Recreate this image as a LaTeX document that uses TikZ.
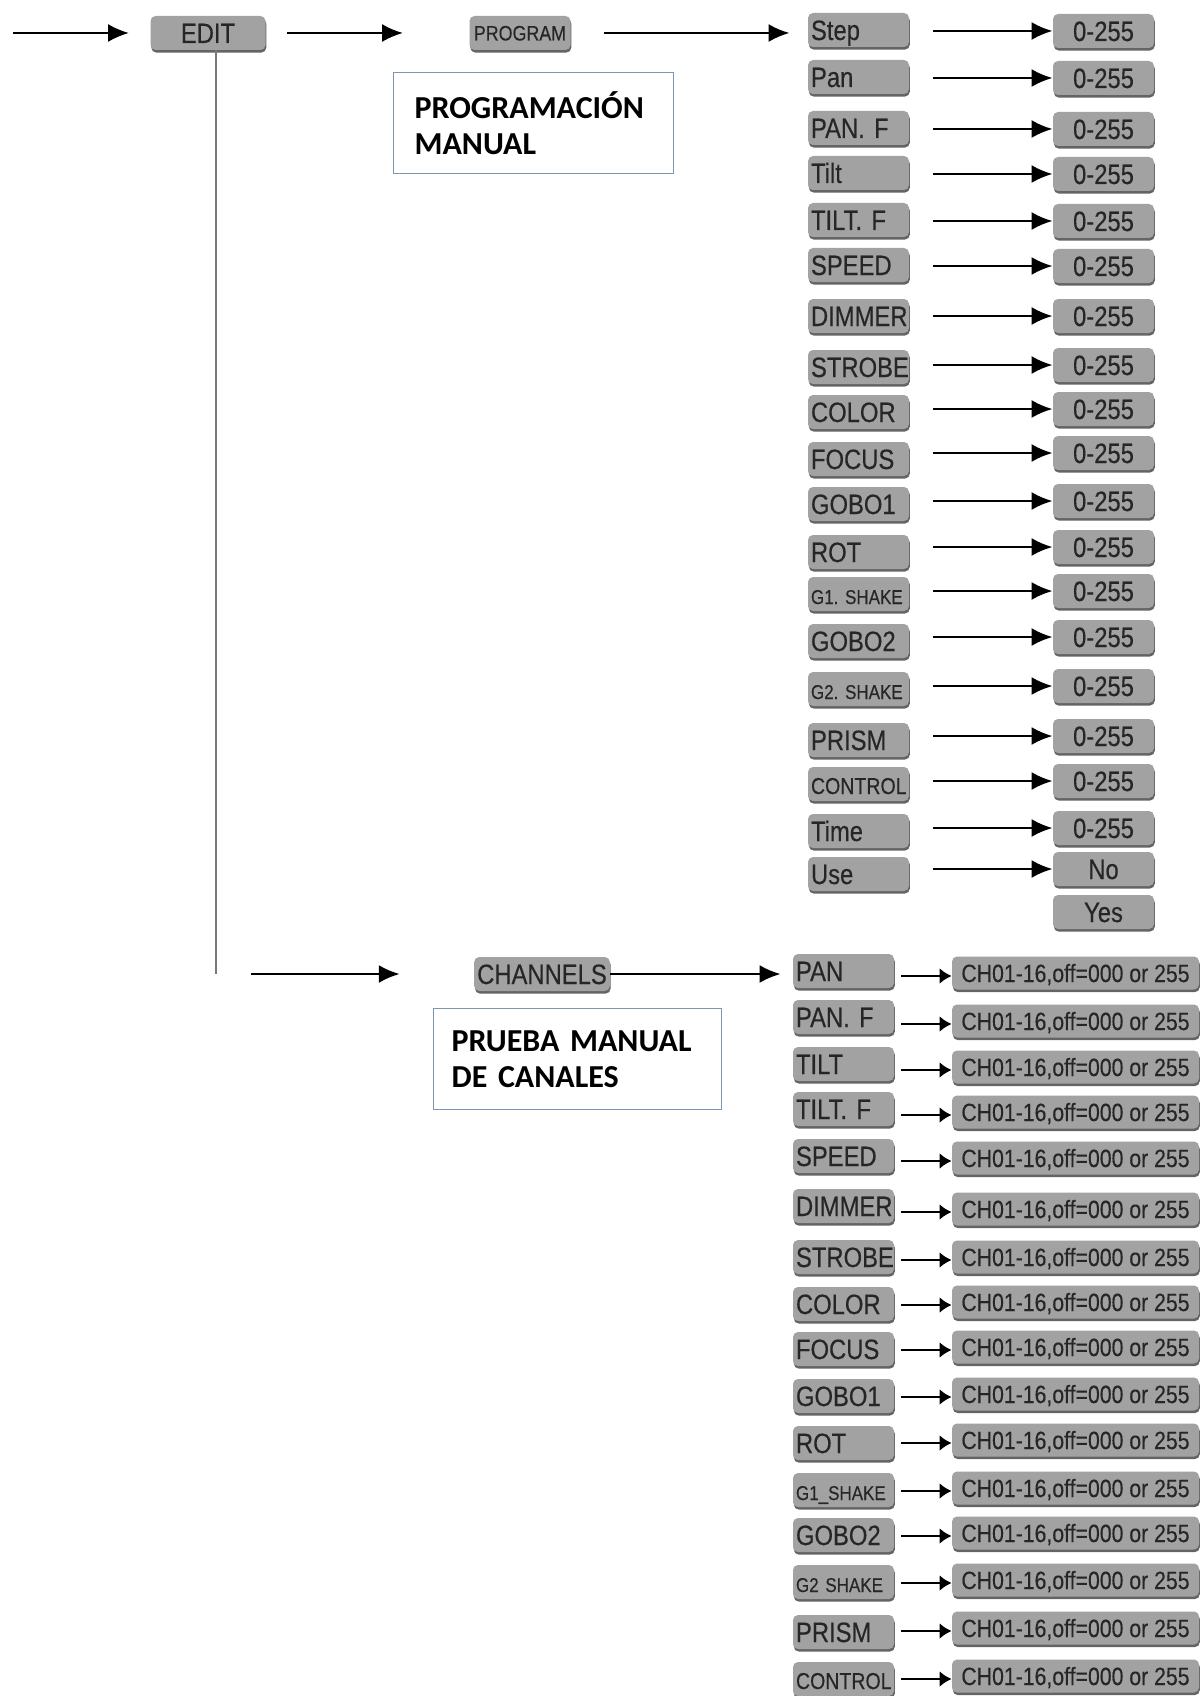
\documentclass[tikz,border=0pt]{standalone}
\usepackage{fontspec}
\setmainfont{Liberation Sans}
\newfontfamily\narrowfont{Liberation Sans}[FakeStretch=0.85,FakeBold=0.3]
\newfontfamily\notefont{Carlito}
\usetikzlibrary{arrows.meta,shadows}
\definecolor{boxfill}{RGB}{162,162,162}
\definecolor{boxshade}{RGB}{100,100,100}
\definecolor{boxtext}{RGB}{38,38,38}
\definecolor{noteline}{RGB}{125,150,180}
\definecolor{stemgray}{RGB}{120,120,120}

\begin{document}
\begin{tikzpicture}[x=0.5pt,y=-0.5pt,
  every node/.style={text=boxtext,font=\narrowfont\fontsize{14}{16}\selectfont},
  menubox/.style={fill=boxfill,rounded corners=2.5pt,inner xsep=1.5pt,inner ysep=0pt,
    minimum height=17pt,text height=10pt,text depth=0pt,
    drop shadow={shadow xshift=0.4pt,shadow yshift=-1.3pt,fill=boxshade,opacity=1}},
  itembox/.style={menubox,text width=47.5pt,align=left},
  valbox/.style={menubox,minimum width=50.5pt},
  chanbox/.style={menubox,minimum width=123.5pt,minimum height=16.5pt,text height=9pt,
    font=\narrowfont\fontsize{12.5}{14}\selectfont},
  notebox/.style={draw=noteline,line width=0.6pt,anchor=north west,minimum height=50.5pt,
    text=black,align=left,font=\notefont\bfseries\fontsize{16}{18}\selectfont},
  flow/.style={line width=1.3pt,-{Latex[length=10.5pt,width=9pt]}},
  shortflow/.style={line width=1.2pt,-{Latex[length=6pt,width=8pt]}}]
  \useasboundingbox (0,0) rectangle (1202,1696);
  \coordinate (in) at (13,33);
  \node[valbox,minimum width=57.5pt] (edit) at (208,33) {EDIT};
  \node[valbox,text height=7.5pt,font=\narrowfont\fontsize{10.5}{12}\selectfont] (program) at (520,33) {PROGRAM};
  \node[notebox,text width=119pt,inner xsep=10.5pt] (prognote) at (393,72) {PROGRAMACIÓN\\MANUAL};
  \draw[flow,shorten >=10.5pt] (in) -- (edit);
  \draw[flow,shorten <=10.5pt,shorten >=33pt] (edit) -- (program);
  \foreach \n/\lab/\fs/\iy/\vy/\val in {1/Step/14/30/31/{0-255},2/Pan/14/77/78/{0-255},
      3/{PAN. F}/14/128/129/{0-255},4/Tilt/14/173/174/{0-255},5/{TILT. F}/14/220/221/{0-255},
      6/SPEED/14/265/266/{0-255},7/DIMMER/14/316/316/{0-255},8/STROBE/14/367/365/{0-255},
      9/COLOR/14/412/409/{0-255},10/FOCUS/14/459/453/{0-255},11/GOBO1/14/504/501/{0-255},
      12/ROT/14/552/547/{0-255},13/{G1.~SHAKE}/10/594/591/{0-255},14/GOBO2/14/641/637/{0-255},
      15/{G2.~SHAKE}/10/689/686/{0-255},16/PRISM/14/740/736/{0-255},17/CONTROL/11.5/784/781/{0-255},
      18/Time/14/831/828/{0-255},19/Use/14/874/869/No}{
    \node[itembox,font=\narrowfont\fontsize{\fs}{\fs}\selectfont] (p\n) at (858.5,\iy) {\lab};
    \node[valbox] (v\n) at (1103.5,\vy) {\val};
    \draw[flow,shorten <=12pt] (v\n.west -| p\n.east) -- (v\n.west);
  }
  \node[valbox] (yes) at (1103.5,912) {Yes};
  \draw[flow,shorten <=16.5pt,shorten >=9pt] (program.east) -- (program.east -| p1.west);
  \coordinate (stemend) at (216,974);
  \draw[stemgray,line width=0.7pt] (edit.south -| stemend) -- (stemend);
  \coordinate (chin) at (251,974);
  \node[valbox,minimum width=66pt,font=\narrowfont\fontsize{14}{16}\selectfont] (channels) at (542,974) {CHANNELS};
  \node[notebox,text width=126pt,inner xsep=9pt] (channote) at (433,1008) {PRUEBA MANUAL\\DE CANALES};
  \draw[flow,shorten >=37pt] (chin) -- (channels);
  \foreach \n/\lab/\fs/\iy/\vy in {1/PAN/14/971/973,2/{PAN. F}/14/1017/1021,3/TILT/14/1064/1067,
      4/{TILT. F}/14/1109/1112,5/SPEED/14/1156/1158,6/DIMMER/14/1206/1209,7/STROBE/14/1257/1257,
      8/COLOR/14/1304/1302,9/FOCUS/14/1349/1347,10/GOBO1/14/1396/1394,11/ROT/14/1443/1440,
      12/G1\_SHAKE/10/1490/1488,13/GOBO2/14/1535/1533,14/{G2~SHAKE}/10/1582/1580,
      15/PRISM/14/1632/1628,16/CONTROL/11.5/1679/1676}{
    \node[itembox,font=\narrowfont\fontsize{\fs}{\fs}\selectfont] (c\n) at (843.5,\iy) {\lab};
    \node[chanbox] (w\n) at (1075.5,\vy) {CH01-16,off=000 or 255};
    \draw[shortflow,shorten <=3.5pt] ([yshift=-1.5pt]w\n.west -| c\n.east) -- ([yshift=-1.5pt]w\n.west);
  }
  \draw[flow,shorten >=6pt] (channels.east) -- (channels.east -| c1.west);
\end{tikzpicture}
\end{document}
